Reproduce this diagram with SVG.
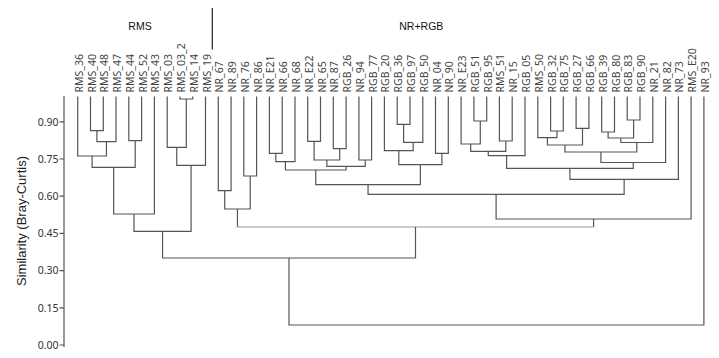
<svg xmlns="http://www.w3.org/2000/svg" width="719" height="358" viewBox="0 0 719 358">
<style>
.bg{fill:#ffffff}
.lf{font-family:"Noto Sans","Liberation Sans",sans-serif;font-size:10.5px;fill:#444}
.tk{font-family:"Noto Sans","Liberation Sans",sans-serif;font-size:10.5px;fill:#333;text-anchor:end}
.grp{font-family:"Liberation Sans",Arial,sans-serif;font-size:10.5px;fill:#111;text-anchor:middle}
.ttl{font-family:"Liberation Sans",Arial,sans-serif;font-size:13px;fill:#222;text-anchor:middle}
.ln{fill:none;stroke:#555;stroke-width:1.2}
.lt{fill:none;stroke:#9a9a9a;stroke-width:1.2}
.ax{fill:none;stroke:#555;stroke-width:1.2}
</style>
<rect class="bg" x="0" y="0" width="719" height="358"/>
<g id="header">
<text class="grp" x="140" y="29.5">RMS</text>
<text class="grp" x="421.3" y="29.5">NR+RGB</text>
<line x1="212.3" y1="8" x2="212.3" y2="49.5" stroke="#222" stroke-width="1.2"/>
</g>
<g id="axis">
<path class="ax" d="M64 96 V347"/>
<path class="ax" d="M59.5 121.8 H64 M59.5 159 H64 M59.5 196.2 H64 M59.5 233.4 H64 M59.5 270.6 H64 M59.5 307.8 H64 M59.5 345 H64"/>
<text class="tk" x="58.5" y="125.5">0.90</text>
<text class="tk" x="58.5" y="162.7">0.75</text>
<text class="tk" x="58.5" y="199.9">0.60</text>
<text class="tk" x="58.5" y="237.1">0.45</text>
<text class="tk" x="58.5" y="274.3">0.30</text>
<text class="tk" x="58.5" y="311.5">0.15</text>
<text class="tk" x="58.5" y="348.7">0.00</text>
<text class="ttl" transform="translate(26,221) rotate(-90)">Similarity (Bray-Curtis)</text>
</g>
<g id="leaves">
<g id="leaf-RMS_36"><text class="lf" transform="translate(82.7,92.5) rotate(-90)">RMS_36</text></g>
<g id="leaf-RMS_40"><text class="lf" transform="translate(95.5,92.5) rotate(-90)">RMS_40</text></g>
<g id="leaf-RMS_48"><text class="lf" transform="translate(108.3,92.5) rotate(-90)">RMS_48</text></g>
<g id="leaf-RMS_47"><text class="lf" transform="translate(121,92.5) rotate(-90)">RMS_47</text></g>
<g id="leaf-RMS_44"><text class="lf" transform="translate(133.8,92.5) rotate(-90)">RMS_44</text></g>
<g id="leaf-RMS_52"><text class="lf" transform="translate(146.6,92.5) rotate(-90)">RMS_52</text></g>
<g id="leaf-RMS_43"><text class="lf" transform="translate(159.4,92.5) rotate(-90)">RMS_43</text></g>
<g id="leaf-RMS_03"><text class="lf" transform="translate(172.2,92.5) rotate(-90)">RMS_03</text></g>
<g id="leaf-RMS_03_2"><text class="lf" transform="translate(184.9,92.5) rotate(-90)">RMS_03_2</text></g>
<g id="leaf-RMS_14"><text class="lf" transform="translate(197.7,92.5) rotate(-90)">RMS_14</text></g>
<g id="leaf-RMS_19"><text class="lf" transform="translate(210.5,92.5) rotate(-90)">RMS_19</text></g>
<g id="leaf-NR_67"><text class="lf" transform="translate(223.3,92.5) rotate(-90)">NR_67</text></g>
<g id="leaf-NR_89"><text class="lf" transform="translate(236.1,92.5) rotate(-90)">NR_89</text></g>
<g id="leaf-NR_76"><text class="lf" transform="translate(248.8,92.5) rotate(-90)">NR_76</text></g>
<g id="leaf-NR_86"><text class="lf" transform="translate(261.6,92.5) rotate(-90)">NR_86</text></g>
<g id="leaf-NR_E21"><text class="lf" transform="translate(274.4,92.5) rotate(-90)">NR_E21</text></g>
<g id="leaf-NR_66"><text class="lf" transform="translate(287.2,92.5) rotate(-90)">NR_66</text></g>
<g id="leaf-NR_68"><text class="lf" transform="translate(300,92.5) rotate(-90)">NR_68</text></g>
<g id="leaf-NR_E22"><text class="lf" transform="translate(312.7,92.5) rotate(-90)">NR_E22</text></g>
<g id="leaf-NR_65"><text class="lf" transform="translate(325.5,92.5) rotate(-90)">NR_65</text></g>
<g id="leaf-NR_87"><text class="lf" transform="translate(338.3,92.5) rotate(-90)">NR_87</text></g>
<g id="leaf-RGB_26"><text class="lf" transform="translate(351.1,92.5) rotate(-90)">RGB_26</text></g>
<g id="leaf-NR_94"><text class="lf" transform="translate(363.9,92.5) rotate(-90)">NR_94</text></g>
<g id="leaf-RGB_77"><text class="lf" transform="translate(376.6,92.5) rotate(-90)">RGB_77</text></g>
<g id="leaf-RGB_20"><text class="lf" transform="translate(389.4,92.5) rotate(-90)">RGB_20</text></g>
<g id="leaf-RGB_36"><text class="lf" transform="translate(402.2,92.5) rotate(-90)">RGB_36</text></g>
<g id="leaf-RGB_97"><text class="lf" transform="translate(415,92.5) rotate(-90)">RGB_97</text></g>
<g id="leaf-RGB_50"><text class="lf" transform="translate(427.8,92.5) rotate(-90)">RGB_50</text></g>
<g id="leaf-NR_04"><text class="lf" transform="translate(440.5,92.5) rotate(-90)">NR_04</text></g>
<g id="leaf-NR_90"><text class="lf" transform="translate(453.3,92.5) rotate(-90)">NR_90</text></g>
<g id="leaf-NR_E23"><text class="lf" transform="translate(466.1,92.5) rotate(-90)">NR_E23</text></g>
<g id="leaf-RGB_51"><text class="lf" transform="translate(478.9,92.5) rotate(-90)">RGB_51</text></g>
<g id="leaf-RGB_95"><text class="lf" transform="translate(491.7,92.5) rotate(-90)">RGB_95</text></g>
<g id="leaf-RMS_51"><text class="lf" transform="translate(504.4,92.5) rotate(-90)">RMS_51</text></g>
<g id="leaf-NR_15"><text class="lf" transform="translate(517.2,92.5) rotate(-90)">NR_15</text></g>
<g id="leaf-RGB_05"><text class="lf" transform="translate(530,92.5) rotate(-90)">RGB_05</text></g>
<g id="leaf-RMS_50"><text class="lf" transform="translate(542.8,92.5) rotate(-90)">RMS_50</text></g>
<g id="leaf-RGB_32"><text class="lf" transform="translate(555.6,92.5) rotate(-90)">RGB_32</text></g>
<g id="leaf-RGB_75"><text class="lf" transform="translate(568.3,92.5) rotate(-90)">RGB_75</text></g>
<g id="leaf-RGB_27"><text class="lf" transform="translate(581.1,92.5) rotate(-90)">RGB_27</text></g>
<g id="leaf-RGB_66"><text class="lf" transform="translate(593.9,92.5) rotate(-90)">RGB_66</text></g>
<g id="leaf-RGB_39"><text class="lf" transform="translate(606.7,92.5) rotate(-90)">RGB_39</text></g>
<g id="leaf-RGB_80"><text class="lf" transform="translate(619.5,92.5) rotate(-90)">RGB_80</text></g>
<g id="leaf-RGB_83"><text class="lf" transform="translate(632.2,92.5) rotate(-90)">RGB_83</text></g>
<g id="leaf-RGB_90"><text class="lf" transform="translate(645,92.5) rotate(-90)">RGB_90</text></g>
<g id="leaf-NR_21"><text class="lf" transform="translate(657.8,92.5) rotate(-90)">NR_21</text></g>
<g id="leaf-NR_82"><text class="lf" transform="translate(670.6,92.5) rotate(-90)">NR_82</text></g>
<g id="leaf-NR_73"><text class="lf" transform="translate(683.4,92.5) rotate(-90)">NR_73</text></g>
<g id="leaf-RMS_E20"><text class="lf" transform="translate(696.1,92.5) rotate(-90)">RMS_E20</text></g>
<g id="leaf-NR_93"><text class="lf" transform="translate(708.9,92.5) rotate(-90)">NR_93</text></g>
</g>
<g id="connectors">
<path class="ln" d="M90.5 96.5 V130.7 H103.3 V96.5"/>
<path class="ln" d="M96.9 130.7 V141.7 H116 V96.5"/>
<path class="ln" d="M77.7 96.5 V156 H106.45 V141.7"/>
<path class="ln" d="M128.8 96.5 V140.7 H141.6 V96.5"/>
<path class="ln" d="M92.1 156 V167.3 H135.2 V140.7"/>
<path class="ln" d="M113.65 167.3 V214 H154.4 V96.5"/>
<path class="ln" d="M179.9 96.5 V99 H192.7 V96.5"/>
<path class="ln" d="M167.2 96.5 V147.3 H186.3 V99"/>
<path class="ln" d="M176.75 147.3 V165.3 H205.5 V96.5"/>
<path class="ln" d="M134 214 V231.3 H191.1 V165.3"/>
<path class="ln" d="M218.3 96.5 V190.7 H231.1 V96.5"/>
<path class="ln" d="M243.8 96.5 V176 H256.6 V96.5"/>
<path class="ln" d="M224.7 190.7 V209 H250.2 V176"/>
<path class="ln" d="M269.4 96.5 V153.3 H282.2 V96.5"/>
<path class="ln" d="M275.8 153.3 V161.7 H295 V96.5"/>
<path class="ln" d="M307.7 96.5 V141.3 H320.5 V96.5"/>
<path class="ln" d="M333.3 96.5 V148.7 H346.1 V96.5"/>
<path class="ln" d="M314.1 141.3 V160 H339.7 V148.7"/>
<path class="ln" d="M358.9 96.5 V160 H371.6 V96.5"/>
<path class="ln" d="M326.9 160 V166.3 H365.25 V160"/>
<path class="ln" d="M285.4 161.7 V170 H346.1 V166.3"/>
<path class="ln" d="M397.2 96.5 V124.3 H410 V96.5"/>
<path class="ln" d="M403.6 124.3 V142.3 H422.8 V96.5"/>
<path class="ln" d="M384.4 96.5 V150.7 H413.2 V142.3"/>
<path class="ln" d="M435.5 96.5 V153.3 H448.3 V96.5"/>
<path class="ln" d="M398.8 150.7 V164.7 H441.9 V153.3"/>
<path class="ln" d="M315.75 170 V184.7 H420.35 V164.7"/>
<path class="ln" d="M473.9 96.5 V121 H486.7 V96.5"/>
<path class="ln" d="M461.1 96.5 V144 H480.3 V121"/>
<path class="ln" d="M499.4 96.5 V141 H512.2 V96.5"/>
<path class="ln" d="M470.7 144 V151.3 H505.8 V141"/>
<path class="ln" d="M488.25 151.3 V155.7 H525 V96.5"/>
<path class="ln" d="M550.6 96.5 V131 H563.3 V96.5"/>
<path class="ln" d="M537.8 96.5 V137.7 H556.95 V131"/>
<path class="ln" d="M576.1 96.5 V128.3 H588.9 V96.5"/>
<path class="ln" d="M547.4 137.7 V145 H582.5 V128.3"/>
<path class="ln" d="M601.7 96.5 V132 H614.5 V96.5"/>
<path class="ln" d="M627.2 96.5 V120 H640 V96.5"/>
<path class="ln" d="M608.1 132 V138 H633.6 V120"/>
<path class="ln" d="M620.85 138 V142.5 H652.8 V96.5"/>
<path class="ln" d="M564.95 145 V152 H636.8 V142.5"/>
<path class="ln" d="M600.9 152 V162.5 H665.6 V96.5"/>
<path class="ln" d="M506.6 155.7 V168.3 H633.25 V162.5"/>
<path class="ln" d="M569.9 168.3 V179.3 H678.4 V96.5"/>
<path class="ln" d="M368.05 184.7 V194.3 H624.15 V179.3"/>
<path class="ln" d="M496.1 194.3 V219 H691.1 V96.5"/>
<path class="ln" d="M237.45 209 V227 M593.6 219 V227"/>
<path class="lt" d="M237.45 227 H593.6"/>
<path class="ln" d="M162.55 231.3 V258 H415.5 V227"/>
<path class="ln" d="M289 258 V325 H703.9 V96.5"/>
</g>
</svg>
